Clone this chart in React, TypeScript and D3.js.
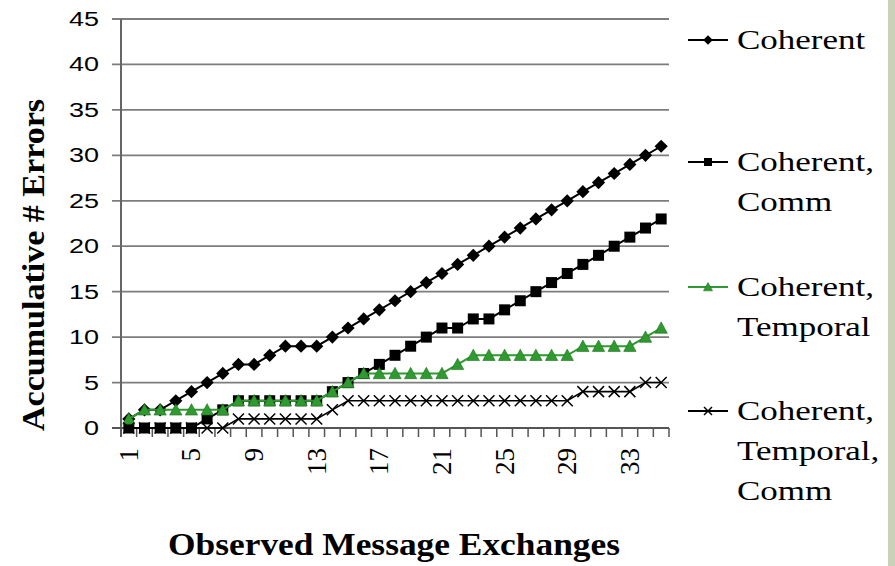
import React from "react";
import * as d3 from "d3";

const W = 895;
const H = 566;

// Observed message exchange index (x categories)
const categories = [
  1, 2, 3, 4, 5, 6, 7, 8, 9, 10, 11, 12, 13, 14, 15, 16, 17, 18, 19, 20, 21, 22, 23, 24,
  25, 26, 27, 28, 29, 30, 31, 32, 33, 34, 35,
];
const xTickLabels = [1, 5, 9, 13, 17, 21, 25, 29, 33];
const yTicks = [0, 5, 10, 15, 20, 25, 30, 35, 40, 45];

// Accumulative error counts per series
const coherent = [
  1, 2, 2, 3, 4, 5, 6, 7, 7, 8, 9, 9, 9, 10, 11, 12, 13, 14, 15, 16, 17, 18, 19, 20, 21,
  22, 23, 24, 25, 26, 27, 28, 29, 30, 31,
];
const coherentComm = [
  0, 0, 0, 0, 0, 1, 2, 3, 3, 3, 3, 3, 3, 4, 5, 6, 7, 8, 9, 10, 11, 11, 12, 12, 13, 14, 15,
  16, 17, 18, 19, 20, 21, 22, 23,
];
const coherentTemporal = [
  1, 2, 2, 2, 2, 2, 2, 3, 3, 3, 3, 3, 3, 4, 5, 6, 6, 6, 6, 6, 6, 7, 8, 8, 8, 8, 8, 8, 8, 9,
  9, 9, 9, 10, 11,
];
const coherentTemporalComm = [
  0, 0, 0, 0, 0, 0, 0, 1, 1, 1, 1, 1, 1, 2, 3, 3, 3, 3, 3, 3, 3, 3, 3, 3, 3, 3, 3, 3, 3, 4,
  4, 4, 4, 5, 5,
];

const seriesLabels = [
  ["Coherent"],
  ["Coherent,", "Comm"],
  ["Coherent,", "Temporal"],
  ["Coherent,", "Temporal,", "Comm"],
];

const GREEN = "#2f9a2f";

type MarkerKind = "diamond" | "square" | "triangle" | "cross";

const series: { values: number[]; color: string; width: number; marker: MarkerKind }[] = [
  { values: coherent, color: "#000", width: 2, marker: "diamond" },
  { values: coherentComm, color: "#000", width: 2, marker: "square" },
  { values: coherentTemporal, color: GREEN, width: 2, marker: "triangle" },
  { values: coherentTemporalComm, color: "#000", width: 1.6, marker: "cross" },
];

function Marker({ kind, x, y, s, color }: { kind: MarkerKind; x: number; y: number; s: number; color: string }) {
  if (kind === "diamond") {
    const r = s * 0.6;
    return <path d={`M${x},${y - r}L${x + r},${y}L${x},${y + r}L${x - r},${y}Z`} fill={color} />;
  }
  if (kind === "square") {
    const h = s * 0.5;
    return <rect x={x - h} y={y - h} width={2 * h} height={2 * h} fill={color} />;
  }
  if (kind === "triangle") {
    const h = s * 0.56;
    return (
      <path
        d={`M${x},${y - h}L${x + h},${y + h * 0.85}L${x - h},${y + h * 0.85}Z`}
        fill={color}
        stroke="#1f6e1f"
        strokeWidth={0.6}
      />
    );
  }
  const h = s * 0.5;
  return (
    <path
      d={`M${x - h},${y - h}L${x + h},${y + h}M${x - h},${y + h}L${x + h},${y - h}`}
      stroke="#000"
      strokeWidth={1.5}
      fill="none"
    />
  );
}

export default function App() {
  const x = d3.scaleBand<number>().domain(categories).range([121, 669]).padding(0);
  const cx = (c: number) => (x(c) as number) + x.bandwidth() / 2;
  const y = d3.scaleLinear().domain([0, 45]).range([428, 19]);
  const lineGen = d3
    .line<number>()
    .x((_, i) => cx(categories[i]))
    .y((v) => y(v));

  const xTickPositions = [...categories.map((c) => x(c) as number), x.range()[1]];
  const [x0, x1] = x.range();

  const legendY = [40, 162, 287, 411];
  const legendLineGap = 40;

  return (
    <svg
      width={W}
      height={H}
      viewBox={`0 0 ${W} ${H}`}
      style={{ position: "absolute", left: 0, top: 0, background: "#fff" }}
    >
      <rect x={0} y={0} width={W} height={H} fill="#fff" />
      <rect x={888} y={0} width={W - 888} height={H} fill="#cbd0b9" />

      {/* horizontal gridlines */}
      {yTicks.map((t) => (
        <line key={`g${t}`} x1={112} x2={x1} y1={y(t)} y2={y(t)} stroke="#7d7d7d" strokeWidth={1.8} />
      ))}
      {/* y axis */}
      <line x1={x0} x2={x0} y1={y(45)} y2={y(0) + 9} stroke="#666" strokeWidth={2} />
      {/* x axis with category ticks */}
      <line x1={112} x2={x1} y1={y(0)} y2={y(0)} stroke="#555" strokeWidth={1.8} />
      {xTickPositions.map((p, i) => (
        <line key={`xt${i}`} x1={p} x2={p} y1={y(0)} y2={y(0) + 9} stroke="#555" strokeWidth={1.5} />
      ))}

      {/* y tick labels */}
      {yTicks.map((t) => (
        <text
          key={`yl${t}`}
          transform={`translate(99,${y(t)}) scale(1,0.72)`}
          textAnchor="end"
          dy="0.36em"
          fontFamily="'Liberation Sans', Arial, sans-serif"
          fontSize={27}
          fill="#000"
        >
          {t}
        </text>
      ))}

      {/* x tick labels */}
      {xTickLabels.map((c) => (
        <text
          key={`xl${c}`}
          transform={`translate(${cx(c)},448) rotate(-90)`}
          textAnchor="end"
          dy="0.33em"
          fontFamily="'Liberation Serif', 'Times New Roman', serif"
          fontSize={27}
          fill="#000"
        >
          {c}
        </text>
      ))}

      {/* series */}
      {series.map((s, i) => (
        <g key={`s${i}`}>
          <path d={lineGen(s.values) || ""} fill="none" stroke={s.color} strokeWidth={s.width} />
          {s.values.map((v, j) => (
            <Marker key={j} kind={s.marker} x={cx(categories[j])} y={y(v)} s={11} color={s.color} />
          ))}
        </g>
      ))}

      {/* axis titles */}
      <text
        transform={`translate(43.5,265) rotate(-90) scale(1,0.92)`}
        textAnchor="middle"
        fontFamily="'Liberation Serif', 'Times New Roman', serif"
        fontWeight="bold"
        fontSize={34}
        textLength={332}
        lengthAdjust="spacingAndGlyphs"
        fill="#000"
      >
        Accumulative # Errors
      </text>
      <text
        transform={`translate(394,555) scale(1,0.93)`}
        textAnchor="middle"
        fontFamily="'Liberation Serif', 'Times New Roman', serif"
        fontWeight="bold"
        fontSize={35}
        textLength={452}
        lengthAdjust="spacingAndGlyphs"
        fill="#000"
      >
        Observed Message Exchanges
      </text>

      {/* legend */}
      {series.map((s, i) => (
        <g key={`lg${i}`}>
          <line x1={688} x2={728} y1={legendY[i]} y2={legendY[i]} stroke={s.color} strokeWidth={2} />
          <Marker kind={s.marker} x={708} y={legendY[i]} s={8} color={s.color} />
          {seriesLabels[i].map((ln, k) => (
            <text
              key={k}
              transform={`translate(737,${legendY[i] + 9 + k * legendLineGap}) scale(1,0.78)`}
              fontFamily="'Liberation Serif', 'Times New Roman', serif"
              fontSize={35}
              fill="#000"
            >
              {ln}
            </text>
          ))}
        </g>
      ))}
    </svg>
  );
}
